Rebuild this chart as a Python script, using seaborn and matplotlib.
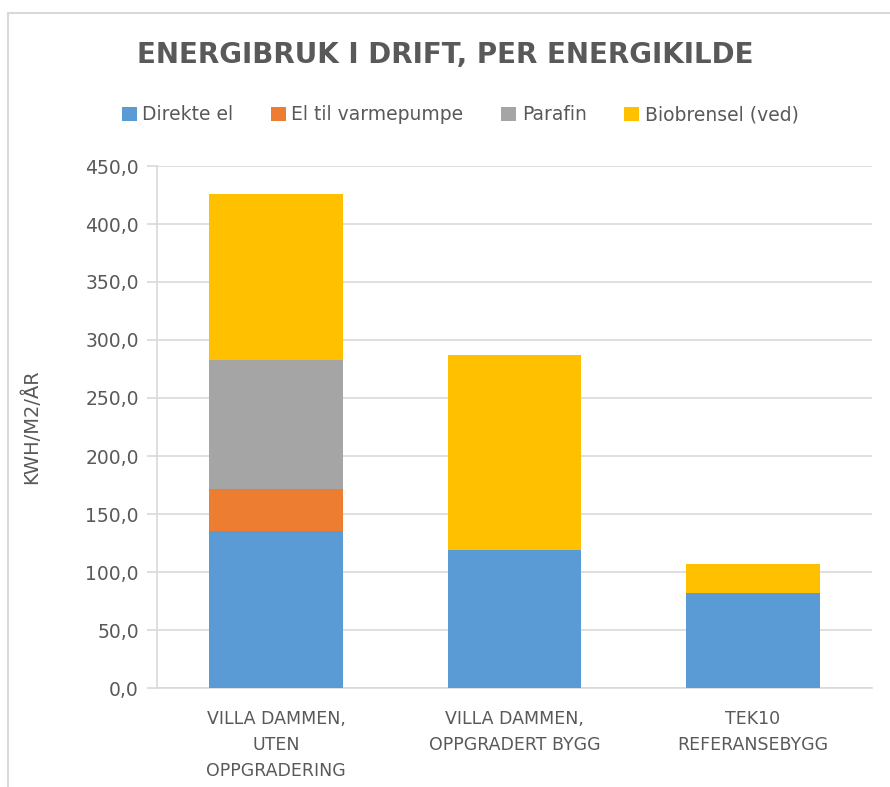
import numpy as np
import pandas as pd
import matplotlib
matplotlib.use("Agg")
import matplotlib.pyplot as plt
from matplotlib.patches import Patch, Rectangle
from matplotlib.ticker import FuncFormatter
import seaborn as sns

# data (kWh/m2/år)
categories = ["VILLA DAMMEN,\nUTEN\nOPPGRADERING",
              "VILLA DAMMEN,\nOPPGRADERT BYGG",
              "TEK10\nREFERANSEBYGG"]
series_names = ["Direkte el", "El til varmepumpe", "Parafin", "Biobrensel (ved)"]
direkte_el = [135.0, 118.6, 81.6]
el_varmepumpe = [36.8, 0.0, 0.0]
parafin = [111.2, 0.0, 0.0]
biobrensel = [142.5, 168.7, 25.6]
colors = ["#5B9BD5", "#ED7D31", "#A5A5A5", "#FFC000"]

TEXT = "#595959"
GRID = "#D9D9D9"

sns.set_theme(style="white")
plt.rcParams["font.family"] = ["DejaVu Sans"]

df = pd.DataFrame({"kategori": categories,
                   "Direkte el": direkte_el,
                   "El til varmepumpe": el_varmepumpe,
                   "Parafin": parafin,
                   "Biobrensel (ved)": biobrensel})
# cumulative totals so that layers can be overdrawn top-down
cum = df[series_names].cumsum(axis=1)

fig = plt.figure(figsize=(8.9, 7.87), dpi=100)
ax = fig.add_axes([157 / 890, 1 - 688 / 787, (872 - 157) / 890, (688 - 166) / 787])

for name, col in reversed(list(zip(series_names, colors))):
    sns.barplot(x=df["kategori"], y=cum[name], color=col, width=0.56,
                saturation=1, ax=ax, zorder=3, linewidth=0)

ax.set_ylim(0, 450)
ax.set_yticks(np.arange(0, 451, 50))
ax.yaxis.set_major_formatter(FuncFormatter(lambda v, p: f"{v:.1f}".replace(".", ",")))
ax.set_xlim(-0.5, 2.5)

ax.grid(axis="y", color=GRID, linewidth=1.2, zorder=0)
ax.set_axisbelow(True)
for side in ["top", "right"]:
    ax.spines[side].set_visible(False)
for side in ["left", "bottom"]:
    ax.spines[side].set_color(GRID)
    ax.spines[side].set_linewidth(1.2)

ax.tick_params(axis="y", which="both", left=True, length=7, width=1.2, color=GRID,
               labelsize=13.5, labelcolor=TEXT, pad=6)
ax.tick_params(axis="x", bottom=False, labelsize=12.5, labelcolor=TEXT, pad=10)
for lbl in ax.get_xticklabels():
    lbl.set_linespacing(1.55)

ax.set_xlabel("")
ax.set_ylabel("KWH/M2/ÅR", color=TEXT, fontsize=14)
ax.yaxis.set_label_coords(-(157 - 41) / (872 - 157), 0.5)

fig.text(0.5, 1 - 55 / 787, "ENERGIBRUK I DRIFT, PER ENERGIKILDE", ha="center", va="center",
         fontsize=20, fontweight="bold", color=TEXT)

handles = [Patch(facecolor=c, edgecolor="none") for c in colors]
fig.legend(handles, series_names, loc="center", bbox_to_anchor=(460 / 890, 1 - 115 / 787),
           ncol=4, frameon=False, fontsize=13.5, labelcolor=TEXT, handlelength=0.8,
           handleheight=0.8, handletextpad=0.3, columnspacing=2.0)

# light chart border like the source
fig.patches.append(Rectangle((8 / 890, -0.1), 1.2, 1.1 - 13 / 787, transform=fig.transFigure,
                             fill=False, edgecolor=GRID, linewidth=1.5))

fig.savefig("out.png", dpi=100)
